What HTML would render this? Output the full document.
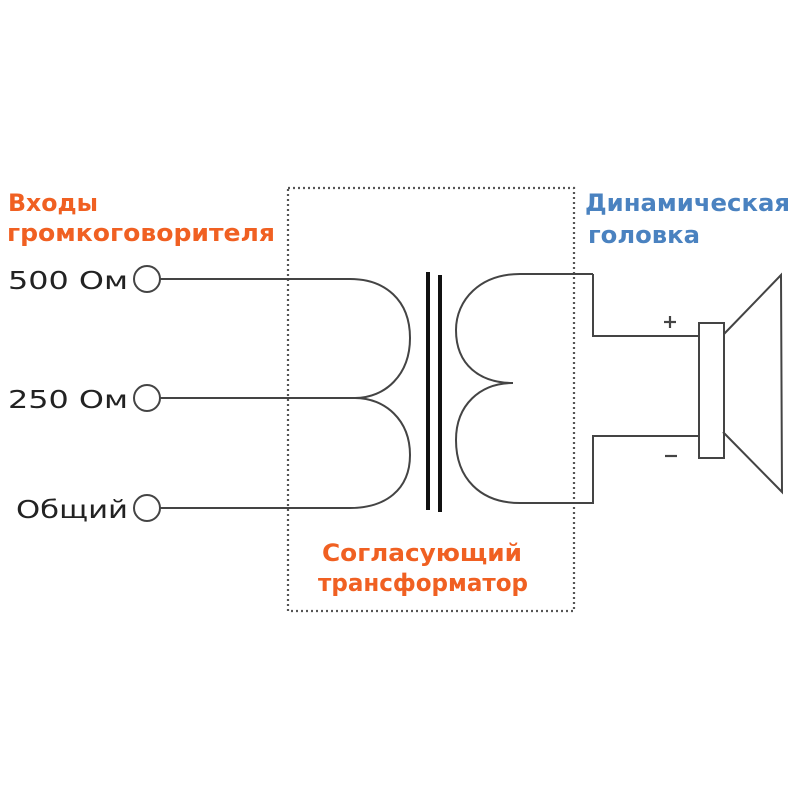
<!DOCTYPE html>
<html><head><meta charset="utf-8"><style>
body{margin:0;background:#fff}
svg{display:block}
</style></head><body>
<svg width="800" height="800" viewBox="0 0 800 800" xmlns="http://www.w3.org/2000/svg" font-family="DejaVu Sans, Liberation Sans, sans-serif">
<rect x="288" y="188" width="286" height="423" fill="none" stroke="#555" stroke-width="2.2" stroke-dasharray="2,3"/>
<g fill="none" stroke="#444" stroke-width="2">
<circle cx="147" cy="279" r="13"/><circle cx="147" cy="398" r="13"/><circle cx="147" cy="508" r="13"/>
<path d="M160 279 H350 C385 279 410 300 410 338 C410 375 385 398 355 398 H160"/>
<path d="M355 398 C385 398 410 420 410 455 C410 490 385 508 350 508 H160"/>
<path d="M593 274 H520 C480 274 456 300 456 330 C456 365 480 383 513 383"/>
<path d="M513 383 C480 383 456 405 456 440 C456 478 480 503 520 503 H593 V436 H700"/>
<path d="M593 274 V336 H700"/>
<rect x="699" y="323" width="25" height="135"/>
<path d="M724 334 L781 275 L782 492 L723 432"/>
</g>
<line x1="428" y1="272" x2="428" y2="510" stroke="#111" stroke-width="4"/>
<line x1="440" y1="275" x2="440" y2="512" stroke="#111" stroke-width="4"/>
<g stroke="#444" stroke-width="2.2">
<line x1="664" y1="322" x2="676" y2="322"/><line x1="670" y1="316" x2="670" y2="328"/>
<line x1="665" y1="456" x2="677" y2="456"/>
</g>
<g fill="#f06022" font-weight="bold" font-size="24">
<text x="8" y="211" textLength="90" lengthAdjust="spacingAndGlyphs">Входы</text>
<text x="7" y="241" textLength="268" lengthAdjust="spacingAndGlyphs">громкоговорителя</text>
<text x="322" y="561" textLength="200" lengthAdjust="spacingAndGlyphs">Согласующий</text>
<text x="318" y="591" textLength="210" lengthAdjust="spacingAndGlyphs">трансформатор</text>
</g>
<g fill="#4a82c0" font-weight="bold" font-size="24">
<text x="585" y="211" textLength="205" lengthAdjust="spacingAndGlyphs">Динамическая</text>
<text x="588" y="243" textLength="112" lengthAdjust="spacingAndGlyphs">головка</text>
</g>
<g fill="#222" font-size="25">
<text x="8" y="289" textLength="120" lengthAdjust="spacingAndGlyphs">500 Ом</text>
<text x="8" y="408" textLength="120" lengthAdjust="spacingAndGlyphs">250 Ом</text>
<text x="16" y="518" textLength="112" lengthAdjust="spacingAndGlyphs">Общий</text>
</g>
</svg>
</body></html>
